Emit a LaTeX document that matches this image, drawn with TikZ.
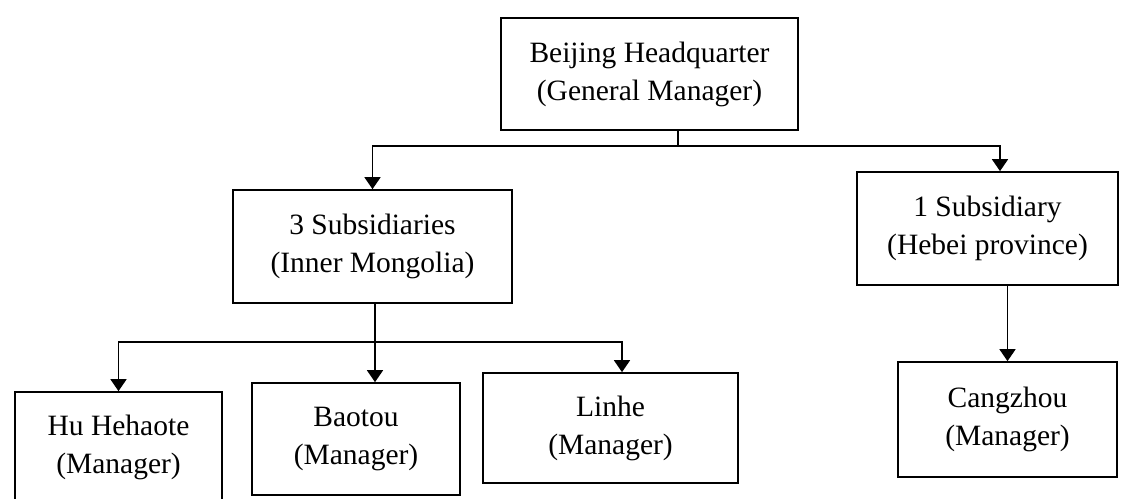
\documentclass[tikz,border=0pt]{standalone}
\usepackage{fontspec}
\setmainfont{Liberation Serif}
\usetikzlibrary{arrows.meta}
\tikzset{
  unit/.style={draw, line width=1.7pt, align=center, inner sep=0pt,
    font=\fontsize{29.5}{38}\selectfont},
  link/.style={line width=1.7pt},
  arr/.style={link, -{Triangle[width=16pt,length=12pt]}}
}
\begin{document}
\begin{tikzpicture}[x=1pt,y=-1pt]
\useasboundingbox (0,0) rectangle (1123,498);

% head office
\node[unit, minimum width=297pt, minimum height=112pt] (hq) at (649.5,74)
  {Beijing Headquarter\\(General Manager)};

% regional subsidiaries
\node[unit, minimum width=279pt, minimum height=113pt] (im) at (372.5,246.5)
  {3 Subsidiaries\\(Inner Mongolia)};
\node[unit, minimum width=261pt, minimum height=113pt] (hb) at (987.5,228.5)
  {1 Subsidiary\\(Hebei province)};

% branch offices
\node[unit, minimum width=207pt, minimum height=110pt] (hu) at (118.5,447)
  {Hu Hehaote\\(Manager)};
\node[unit, minimum width=208pt, minimum height=112pt] (bt) at (356,439)
  {Baotou\\(Manager)};
\node[unit, minimum width=255pt, minimum height=110pt] (lh) at (610.5,428)
  {Linhe\\(Manager)};
\node[unit, minimum width=219pt, minimum height=115pt] (cz) at (1007.5,419.5)
  {Cangzhou\\(Manager)};

% junction points of the two buses
\coordinate (busA) at (678,146);
\coordinate (busB) at (375,342);

% head office to subsidiaries
\draw[link] (hq.south -| busA) -- (busA);
\draw[arr] (busA) -| (im.north);
\draw[arr] (busA) -| ([xshift=12.5pt]hb.north);

% Inner Mongolia to its branches
\draw[link] (im.south -| busB) -- (busB);
\draw[arr] (busB) -| (hu.north);
\draw[arr] (busB) -- (busB |- bt.north);
\draw[arr] (busB) -| ([xshift=11.5pt]lh.north);

% Hebei to Cangzhou
\draw[arr] (hb.south -| cz.north) -- (cz.north);
\end{tikzpicture}
\end{document}
